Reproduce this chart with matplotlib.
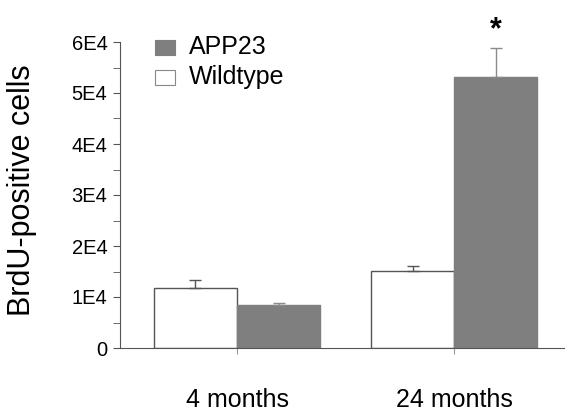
import numpy as np
import matplotlib
matplotlib.use("Agg")
import matplotlib.pyplot as plt
from matplotlib.ticker import MultipleLocator, FuncFormatter

plt.rcParams['font.family'] = ['Liberation Sans', 'DejaVu Sans']

# data
groups = ["4 months", "24 months"]
wildtype = [11800, 15100]
wildtype_err = [1500, 900]
app23 = [8400, 53100]
app23_err = [400, 5700]

fig = plt.figure(figsize=(5.65, 4.13), dpi=100)
ax = fig.add_axes([120 / 565, 65 / 413, 445 / 565, 306 / 413])

x = np.arange(len(groups))
w = 0.383
ax.bar(x - w / 2, wildtype, w, color="white", edgecolor="#555555", linewidth=1.0)
ax.bar(x + w / 2, app23, w, color="#7f7f7f", edgecolor="#7f7f7f", linewidth=1.0)

ax.errorbar(x - w / 2, wildtype, yerr=[np.zeros(2), wildtype_err], fmt="none",
            ecolor="#555555", elinewidth=1.0, capsize=4, capthick=1.0)
ax.errorbar(x + w / 2, app23, yerr=[np.zeros(2), app23_err], fmt="none",
            ecolor="#8a8a8a", elinewidth=1.0, capsize=4, capthick=1.0)

# significance marker
ax.text(1 + w / 2, 62300, "*", ha="center", va="center", fontsize=22,
        fontweight="bold", clip_on=False)

ax.set_xlim(-0.539, 1.51)
ax.set_ylim(0, 60000)

for s in ["top", "right"]:
    ax.spines[s].set_visible(False)
ax.spines["left"].set_color("#555555")
ax.spines["bottom"].set_color("#555555")

ax.yaxis.set_major_locator(MultipleLocator(10000))
ax.yaxis.set_minor_locator(MultipleLocator(5000))
ax.yaxis.set_major_formatter(FuncFormatter(lambda v, p: "0" if v == 0 else f"{int(v / 10000)}E4"))
ax.tick_params(axis="y", which="both", direction="out", length=5, color="#555555",
               labelsize=14.5, pad=4)

ax.set_xticks(x)
ax.set_xticklabels(groups)
ax.tick_params(axis="x", direction="out", length=4, color="#999999",
               labelsize=18, pad=25)

fig.text(22 / 565, 1 - 190 / 413, "BrdU-positive cells", fontsize=22,
         rotation=90, ha="center", va="center")

# legend
fig.patches.append(plt.Rectangle((155 / 565, 1 - 55 / 413), 20 / 565, 15 / 413,
                                 transform=fig.transFigure, facecolor="#7f7f7f",
                                 edgecolor="#7f7f7f", linewidth=0.8))
fig.patches.append(plt.Rectangle((155 / 565, 1 - 85 / 413), 20 / 565, 15 / 413,
                                 transform=fig.transFigure, facecolor="white",
                                 edgecolor="#888888", linewidth=0.8))
fig.text(189 / 565, 1 - 47 / 413, "APP23", fontsize=18, va="center")
fig.text(189 / 565, 1 - 77 / 413, "Wildtype", fontsize=18, va="center")

fig.savefig("out.png", dpi=100)
